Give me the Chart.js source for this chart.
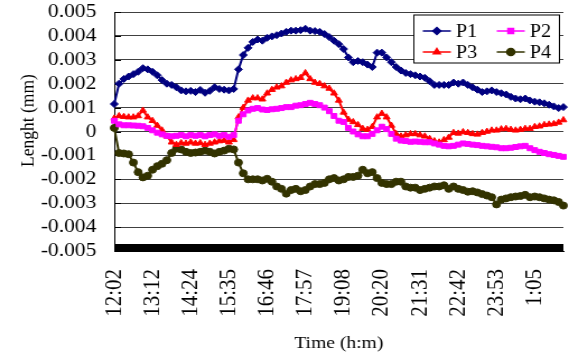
<!DOCTYPE html>
<html lang="en">
<head>
<meta charset="UTF-8">
<title>Lenght vs time</title>
<script src="https://cdn.jsdelivr.net/npm/chart.js"></script>
<style>
  body { margin: 0; background: #fff; }
  /* glyphs in the original are a bit wide, so the canvas is drawn narrow and stretched */
  #chart { display: block; width: 569px !important; height: 358px !important; }
</style>
</head>
<body>
<canvas id="chart" width="508" height="358" style="width:569px;height:358px"></canvas>
<script>
const tickLabels = ["12:02", "13:12", "14:24", "15:35", "16:46", "17:57", "19:08", "20:20", "21:31", "22:42", "23:53", "1:05"];
const samplesPerLabel = 8;

// mm
const p1 = [0.00115, 0.0020, 0.0022, 0.0023, 0.0024, 0.0025, 0.00265, 0.0026, 0.0025, 0.00235,
    0.00215, 0.0020, 0.00195, 0.00185, 0.00172, 0.00168, 0.0017, 0.00165, 0.00174, 0.00162,
    0.0017, 0.00185, 0.00178, 0.00175, 0.00172, 0.00178, 0.0026, 0.0032, 0.0035, 0.00375,
    0.00385, 0.0038, 0.00392, 0.00398, 0.00403, 0.0041, 0.00417, 0.00422, 0.00422, 0.00424,
    0.0043, 0.00422, 0.0042, 0.00417, 0.00408, 0.00395, 0.0038, 0.00365, 0.00345, 0.0031,
    0.0029, 0.00295, 0.0029, 0.0028, 0.0027, 0.0033, 0.0033, 0.0031, 0.0029, 0.0027,
    0.00255, 0.00245, 0.0024, 0.00235, 0.0023, 0.00225, 0.0021, 0.00195, 0.00195, 0.00195,
    0.00195, 0.00205, 0.0020, 0.00205, 0.00195, 0.00185, 0.00175, 0.00165, 0.00168, 0.00172,
    0.00165, 0.0016, 0.00155, 0.00145, 0.00138, 0.00135, 0.00138, 0.0013, 0.00125, 0.00122,
    0.00118, 0.00112, 0.00105, 0.00098, 0.00102];
const p2 = [0.00045, 0.0003, 0.00026, 0.00026, 0.00025, 0.00024, 0.00022, 0.00015, 0.00005, -0.00005,
    -0.00012, -0.00018, -0.0002, -0.00018, -0.00015, -0.0002, -0.00015, -0.00018, -0.00015, -0.0002,
    -0.00015, -0.00012, -0.00018, -0.00015, -0.00022, -0.00015, 0.00045, 0.00072, 0.00088, 0.00095,
    0.00098, 0.00092, 0.0009, 0.00093, 0.00095, 0.00098, 0.00102, 0.00102, 0.00108, 0.0011,
    0.00115, 0.0012, 0.00115, 0.0011, 0.0010, 0.00085, 0.00065, 0.00045, 0.0004, 0.00015,
    0.0, -0.00012, -0.0002, -0.0002, -0.0001, 0.00005, 0.0002, 0.0001, -0.0001, -0.0003,
    -0.00038, -0.0004, -0.00043, -0.00042, -0.00043, -0.00045, -0.00045, -0.0005, -0.00055, -0.0006,
    -0.00062, -0.0006, -0.00055, -0.0005, -0.00052, -0.00055, -0.00057, -0.0006, -0.00062, -0.00064,
    -0.00066, -0.0007, -0.0007, -0.00068, -0.00065, -0.00062, -0.0006, -0.0007, -0.00078, -0.00085,
    -0.0009, -0.00095, -0.00098, -0.00102, -0.00106];
const p3 = [0.00055, 0.00065, 0.00062, 0.0006, 0.0006, 0.00065, 0.00088, 0.0006, 0.00045, 0.00025,
    0.00005, -0.0002, -0.00045, -0.00055, -0.00048, -0.0005, -0.00045, -0.0005, -0.00048, -0.00055,
    -0.0005, -0.00045, -0.0004, -0.00038, -0.00045, -0.00035, 0.0006, 0.0010, 0.0013, 0.0014,
    0.0014, 0.00135, 0.0016, 0.00175, 0.00185, 0.0019, 0.00205, 0.00215, 0.0022, 0.00225,
    0.00245, 0.0022, 0.00205, 0.0020, 0.0019, 0.0018, 0.0016, 0.0013, 0.0008, 0.0005,
    0.0004, 0.00028, 0.00012, 0.00008, 0.0002, 0.0006, 0.00075, 0.0006, 0.00025, -0.0001,
    -0.0002, -0.00015, -0.0001, -0.0001, -0.00015, -0.0002, -0.0003, -0.0004, -0.00045, -0.00035,
    -0.00025, -0.00005, -0.00008, -0.00002, -0.00005, -0.0001, -0.00012, -0.00005, 0.0, 0.00005,
    0.00005, 0.0001, 0.00012, 0.00008, 0.00005, 0.00008, 0.00012, 0.00012, 0.0002, 0.00022,
    0.00028, 0.0003, 0.00032, 0.00038, 0.00048];
const p4 = [0.00015, -0.0009, -0.00092, -0.00095, -0.0013, -0.0017, -0.00192, -0.00185, -0.0016, -0.00145,
    -0.00135, -0.0012, -0.0009, -0.00072, -0.00075, -0.00085, -0.0009, -0.00088, -0.00085, -0.0008,
    -0.00085, -0.00092, -0.00085, -0.0008, -0.00072, -0.00075, -0.0013, -0.00175, -0.0020, -0.0020,
    -0.0020, -0.00205, -0.00198, -0.0021, -0.0023, -0.0024, -0.0026, -0.00245, -0.0024, -0.0025,
    -0.00245, -0.0023, -0.0022, -0.0022, -0.00215, -0.0020, -0.00195, -0.00205, -0.0020, -0.0019,
    -0.0019, -0.00185, -0.0016, -0.00175, -0.0017, -0.00195, -0.00215, -0.0022, -0.0022, -0.0021,
    -0.0021, -0.0023, -0.00235, -0.00235, -0.00245, -0.0024, -0.00235, -0.0023, -0.0023, -0.00225,
    -0.0024, -0.0023, -0.0024, -0.00245, -0.00252, -0.0025, -0.00255, -0.00262, -0.00268, -0.00275,
    -0.00305, -0.00285, -0.0028, -0.00275, -0.00272, -0.0027, -0.00265, -0.00275, -0.00272, -0.00275,
    -0.0028, -0.00285, -0.00288, -0.00295, -0.0031];

const seriesNames = ["P1", "P2", "P3", "P4"];
const seriesColors = ["#000080", "#ff00ff", "#ff0000", "#333300"];
const seriesMarkers = ["rectRot", "rect", "triangle", "circle"];

const categories = p1.map((_, i) => i % samplesPerLabel === 0 ? (tickLabels[i / samplesPerLabel] || "") : "");
const serif = "'Liberation Serif', 'Times New Roman', serif";

// inside tick marks: black band along the x axis, short ticks on the y axis
const frameMarks = {
    id: "frameMarks",
    beforeDatasetsDraw(chart) {
        const { ctx, chartArea: a, scales: { y } } = chart;
        ctx.save();
        ctx.fillStyle = "#000";
        ctx.fillRect(a.left, a.bottom - 7, a.right - a.left, 7);
        ctx.strokeStyle = "#000";
        ctx.lineWidth = 1;
        y.ticks.forEach(t => {
            const py = Math.round(y.getPixelForValue(t.value)) + 0.5;
            ctx.beginPath();
            ctx.moveTo(a.left, py);
            ctx.lineTo(a.left + 6, py);
            ctx.stroke();
        });
        ctx.restore();
    }
};

// boxed two-column legend inside the plot
const boxLegend = {
    id: "boxLegend",
    afterDraw(chart) {
        const { ctx, chartArea: a } = chart;
        const left = 369, top = a.top + 2.5, w = 130, h = 48;
        ctx.save();
        ctx.fillStyle = "#fff";
        ctx.fillRect(left, top, w, h);
        ctx.strokeStyle = "#000";
        ctx.lineWidth = 1;
        ctx.strokeRect(left + 0.5, top + 0.5, w, h);
        ctx.font = "18px " + serif;
        ctx.textBaseline = "middle";
        chart.data.datasets.forEach((ds, i) => {
            const col = i % 2, row = Math.floor(i / 2);
            const x0 = left + (col ? 74.5 : 8.5);
            const yc = top + (row ? 37.5 : 16.5);
            ctx.strokeStyle = ds.borderColor;
            ctx.fillStyle = ds.borderColor;
            ctx.lineWidth = 1.5;
            ctx.beginPath();
            ctx.moveTo(x0, yc);
            ctx.lineTo(x0 + 25, yc);
            ctx.stroke();
            Chart.helpers.drawPoint(ctx, { pointStyle: ds.pointStyle, radius: 3.5, rotation: 0, borderWidth: 1 }, x0 + 12.5, yc);
            ctx.fillStyle = "#000";
            ctx.fillText(ds.label, x0 + 29.5, yc + 1);
        });
        ctx.restore();
    }
};

new Chart(document.getElementById("chart"), {
    type: "line",
    data: {
        labels: categories,
        datasets: [p1, p2, p3, p4].map((d, i) => ({
            label: seriesNames[i],
            data: d,
            borderColor: seriesColors[i],
            backgroundColor: seriesColors[i],
            pointStyle: seriesMarkers[i],
            pointRadius: 3.5,
            pointBorderWidth: 1,
            borderWidth: 2,
            tension: 0
        }))
    },
    options: {
        responsive: false,
        devicePixelRatio: 1,
        animation: false,
        layout: { padding: { left: 15, top: 12, right: 1, bottom: 4 } },
        plugins: { legend: { display: false }, tooltip: { enabled: false } },
        scales: {
            x: {
                type: "category",
                grid: { display: false, drawTicks: false },
                border: { color: "#000", width: 1 },
                ticks: {
                    autoSkip: false, minRotation: 90, maxRotation: 90, padding: 18,
                    color: "#000", font: { family: serif, size: 21 }
                },
                title: {
                    display: true, text: "Time (h:m)", color: "#000",
                    font: { family: serif, size: 17.5 }, padding: { top: 14, bottom: 0 }
                },
                afterFit(s) { s.paddingLeft = 0; s.paddingRight = 0; s.height = 103; }
            },
            y: {
                min: -0.005, max: 0.005,
                grid: { color: "#404040", drawTicks: false },
                border: { color: "#000", width: 1 },
                ticks: {
                    stepSize: 0.001, padding: 16, autoSkip: false, color: "#000",
                    font: { family: serif, size: 19.2 },
                    callback: v => String(Number(v.toFixed(3)))
                },
                title: {
                    // leading spaces lift the centred title a little, as in the original
                    display: true, text: "     Lenght (mm)", color: "#000",
                    font: { family: serif, size: 17.5 }, padding: 0
                },
                afterFit(s) { s.paddingTop = 0; s.paddingBottom = 0; s.width = 87; }
            }
        }
    },
    plugins: [frameMarks, boxLegend]
});
</script>
</body>
</html>
